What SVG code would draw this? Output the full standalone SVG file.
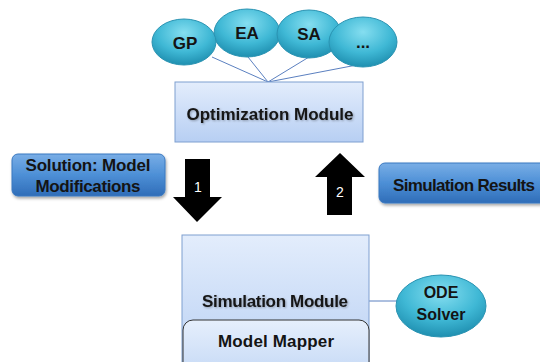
<svg xmlns="http://www.w3.org/2000/svg" width="540" height="362" viewBox="0 0 540 362">
<defs>
<linearGradient id="gLight" x1="0" y1="0" x2="0" y2="1">
<stop offset="0" stop-color="#e3edfc"/>
<stop offset="1" stop-color="#b7cff3"/>
</linearGradient>
<linearGradient id="gMapper" x1="0" y1="0" x2="0" y2="1">
<stop offset="0" stop-color="#e6effc"/>
<stop offset="1" stop-color="#c2d7f5"/>
</linearGradient>
<linearGradient id="gBlue" x1="0" y1="0" x2="0" y2="1">
<stop offset="0" stop-color="#79aee6"/>
<stop offset="0.5" stop-color="#4d8fd6"/>
<stop offset="1" stop-color="#2f6db8"/>
</linearGradient>
<radialGradient id="gTeal" cx="0.5" cy="0.3" r="0.7">
<stop offset="0" stop-color="#85def0"/>
<stop offset="0.6" stop-color="#3fb8d5"/>
<stop offset="1" stop-color="#1f8fb0"/>
</radialGradient>
<filter id="shadow" x="-10%" y="-10%" width="130%" height="140%">
<feDropShadow dx="1" dy="2" stdDeviation="1.5" flood-color="#000" flood-opacity="0.35"/>
</filter>
<filter id="tshadow" x="-5%" y="-20%" width="110%" height="150%">
<feDropShadow dx="1" dy="1" stdDeviation="1" flood-color="#000" flood-opacity="0.3"/>
</filter>
</defs>
<style>
.ell{fill:url(#gTeal);stroke:#2a93b2;stroke-width:1}
.light{fill:url(#gLight);stroke:#7f9fd0;stroke-width:1}
.blue{fill:url(#gBlue);stroke:#3a78c0;stroke-width:1;filter:url(#shadow)}
.t{font-family:"Liberation Sans",Arial,sans-serif;font-weight:bold;fill:#141414;text-anchor:middle}
.ts{filter:url(#tshadow)}
.conn{stroke:#5b80c0;stroke-width:1;fill:none}
.barrow{fill:#000}
.num{font-family:"Liberation Sans",Arial,sans-serif;font-size:14px;fill:#fff;text-anchor:middle}
</style>

<g id="connectors">
<line class="conn" x1="212" y1="57" x2="268" y2="82"/>
<line class="conn" x1="248" y1="57" x2="268" y2="82"/>
<line class="conn" x1="309" y1="57" x2="268" y2="82"/>
<line class="conn" x1="362" y1="64" x2="268" y2="82"/>
<line class="conn" x1="369" y1="301" x2="397" y2="301"/>
<g id="arrow1">
<polygon class="barrow" points="185,159 210,159 210,197 222,197 197,222 173,197 185,197"/>
<text class="num" x="198" y="192">1</text>
</g>
<g id="arrow2">
<polygon class="barrow" points="327,215 352,215 352,177 365,177 340,153 315,177 327,177"/>
<text class="num" x="340" y="197">2</text>
</g>
</g>

<g id="node-ea">
<ellipse class="ell" cx="247" cy="33" rx="33" ry="24"/>
<text class="t" x="247" y="39" font-size="17">EA</text>
</g>
<g id="node-gp">
<ellipse class="ell" cx="184" cy="42" rx="32" ry="23"/>
<text class="t" x="185" y="49" font-size="17">GP</text>
</g>
<g id="node-sa">
<ellipse class="ell" cx="309" cy="34" rx="32" ry="24"/>
<text class="t" x="309" y="40" font-size="17">SA</text>
</g>
<g id="node-more">
<ellipse class="ell" cx="363" cy="42" rx="34" ry="25"/>
<text class="t" x="363" y="48" font-size="17">...</text>
</g>

<g id="node-opt">
<rect class="light" x="175" y="82" width="188" height="60"/>
<text class="t ts" x="270" y="120" font-size="17" textLength="167">Optimization Module</text>
</g>

<g id="node-solution">
<rect class="blue" x="12" y="154" width="153" height="42" rx="6"/>
<text class="t" x="88" y="171" font-size="17" textLength="125">Solution: Model</text>
<text class="t" x="88" y="192" font-size="17" textLength="105">Modifications</text>
</g>

<g id="node-simresults">
<rect class="blue" x="379" y="163" width="170" height="40" rx="6"/>
<text class="t" x="464" y="191" font-size="17" textLength="142">Simulation Results</text>
</g>

<g id="node-sim">
<rect class="light" x="182" y="235" width="187" height="140"/>
<text class="t ts" x="275" y="307" font-size="17" textLength="146">Simulation Module</text>
</g>

<g id="node-mapper">
<rect x="183" y="320" width="186" height="60" rx="10" fill="url(#gMapper)" stroke="#333" stroke-width="1"/>
<text class="t" x="276" y="347" font-size="17" textLength="116">Model Mapper</text>
</g>

<g id="node-ode">
<ellipse class="ell" cx="441" cy="306" rx="45" ry="31"/>
<text class="t" x="441" y="298" font-size="16">ODE</text>
<text class="t" x="441" y="320" font-size="16">Solver</text>
</g>
</svg>
